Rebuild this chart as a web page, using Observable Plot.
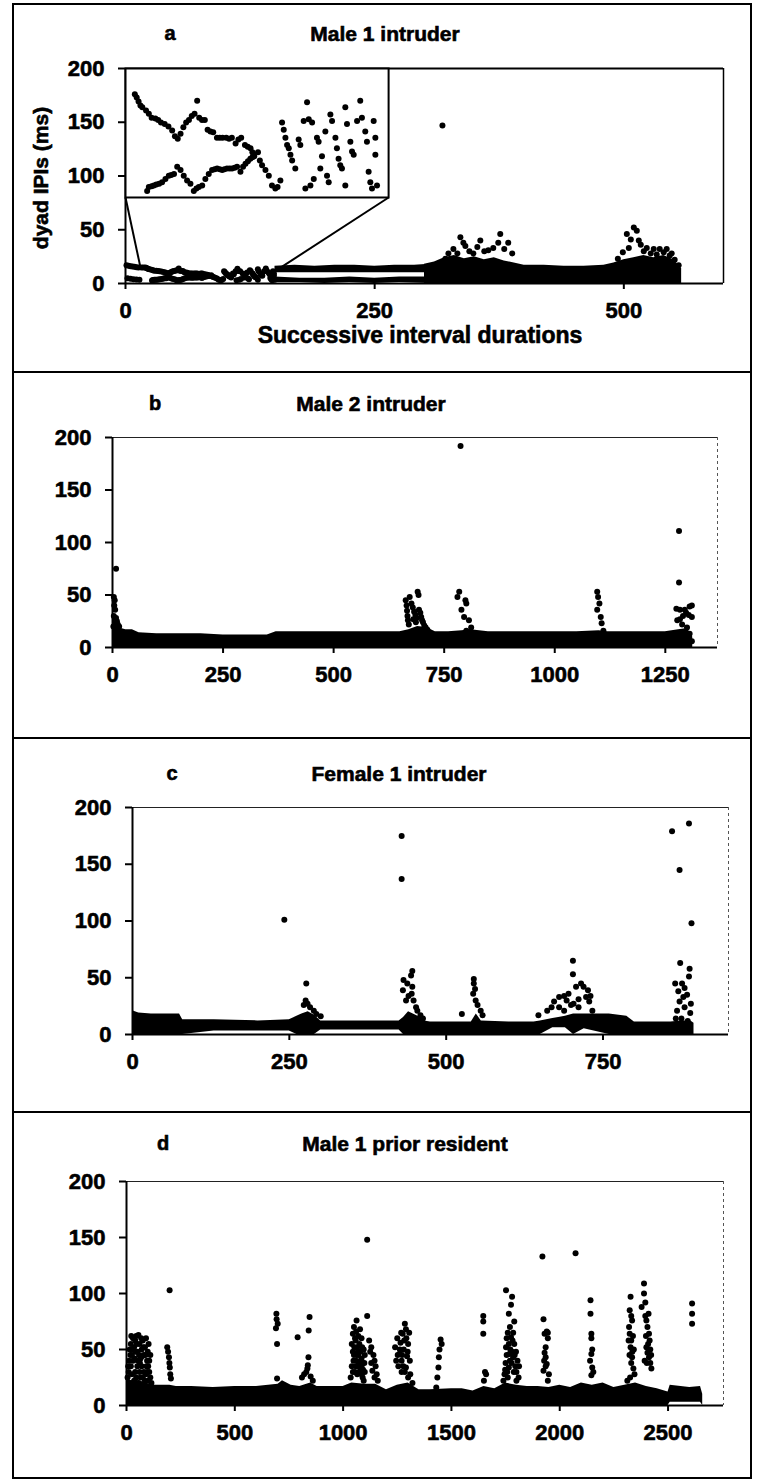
<!DOCTYPE html>
<html><head><meta charset="utf-8">
<script src="https://cdn.jsdelivr.net/npm/d3@7"></script>
<script src="https://cdn.jsdelivr.net/npm/@observablehq/plot@0.6"></script>
<style>
html,body{margin:0;padding:0;background:#fff;}
#page{position:relative;width:760px;height:1481px;overflow:hidden;font-family:"Liberation Sans",Arial,Helvetica,sans-serif;font-weight:bold;color:#000;}
.box{position:absolute;left:12px;width:740px;border:2px solid #000;box-sizing:border-box;pointer-events:none;z-index:5;}
.t{position:absolute;transform:translate(-50%,-50%);white-space:nowrap;font-size:20px;z-index:6;line-height:1;-webkit-text-stroke:0.6px #000;}
#page svg text{stroke:#000;stroke-width:0.6px;}
</style></head><body><div id="page"></div>
<script>
// ---------- shared ----------
const yTicks = [0, 50, 100, 150, 200];

// ---------- panel a : Male 1 intruder ----------
const aTitle = "Male 1 intruder";
const aXTicks = [0, 250, 500];
const aXMax = 600;
// inset (magnified intervals 15..156): [interval, ms]
const aInsetUpper = [[20,14.8],[21,14.4],[22,13.9],[23,13.4],[24,13.2],[26,12.8],[27.5,12.4],[29,11.9],[31,11.8],[32.5,11.6],[34,11.3],[36,11.1],[38,10.8],[40,10.3],[41.5,9.6],[43,9.3],[44.5,9.9],[46,10.7],[47.5,11.3],[49,11.6],[50.5,12.1],[52,12.4],[53.4,14.0],[54.5,11.9],[56,11.6],[57.5,11.6],[59,10.4],[60.5,10.2],[62,10.1],[64,9.4],[65.5,9.4],[67,9.4],[69,9.4],[70.5,9.3],[72,9.4],[74,8.7],[75.5,9.2],[77,9.4],[79,8.5],[80.5,8.3],[82,8.1],[83,7.6],[84,7.1]];
const aInsetLower = [[26.6,2.8],[27.5,3.3],[29,3.4],[30.2,3.5],[31.5,3.6],[33,3.7],[34.6,3.9],[36.4,4.3],[38.2,4.7],[39.5,4.8],[41,4.9],[42.7,5.8],[44.5,5.4],[46.2,4.7],[48,4.1],[49.8,3.7],[51.6,2.8],[53,3.1],[54.3,3.3],[56.1,3.5],[57.8,4.3],[59.6,4.9],[61.4,5.4],[62.8,5.5],[64.1,5.6],[65.5,5.5],[66.8,5.4],[68,5.5],[69.4,5.6],[70.8,5.6],[72.1,5.6],[73.5,5.7],[74.8,5.8],[76.6,5.2],[78,5.8],[79.3,6.2],[80.6,6.5],[81.9,6.8],[83,7.0],[83.7,7.3]];
const aInsetScatter = [[86,7.6],[87,6.6],[88.2,6.0],[90,5.4],[91.8,4.7],[93.5,3.5],[95.3,3.1],[96.5,3.3],[98,4.1],[98.9,11.3],[99.8,10.4],[100.7,9.4],[101.6,8.5],[102.5,8.1],[103.4,7.3],[104.3,6.6],[106,5.6],[107.8,9.2],[108.7,8.5],[110.5,11.5],[111.4,3.1],[112.3,13.8],[113.2,11.7],[114.1,3.5],[115,11.3],[115.9,4.3],[117.6,9.4],[118.5,8.9],[119.4,5.6],[120.3,7.1],[122.1,10.2],[123,4.7],[123.9,3.9],[124.8,12.3],[125.7,11.5],[127.5,9.4],[128.3,8.1],[129.2,6.8],[130.1,6.0],[131,5.6],[132.8,13.2],[132.8,3.5],[133.7,11.1],[135.5,8.9],[136.4,7.7],[137.3,7.3],[139.1,11.5],[140.8,14.0],[141.7,11.9],[143.5,10.2],[144.4,8.9],[145.3,5.2],[146.2,3.9],[147.1,3.1],[148,11.5],[148.9,9.4],[148.9,7.3],[149.8,3.5]];
const aStart = [[1,17],[3,16.5],[5,16],[7,15.8],[9,15.5],[11,15.2],[13,15],[16,14.9],[18,14.8],[2,5],[5,4.5],[8,4],[11,3.8],[14,3.5]];
const aInsetX = [15, 156];
const aInsetY = [2, 18];
const aInsetBox = {x0: 0, x1: 264, y0: 80, y1: 200};
const aInsetLinks = [{x1: 0, y1: 80, x2: 15, y2: 15}, {x1: 264, y1: 80, x2: 156, y2: 15}];
// dense band envelopes: [interval, low ms, high ms]
const aBandUpper = [[150,10,16],[170,10,17],[190,10,16],[210,10,17],[230,10,17],[250,10,16],[270,10,17],[290,10,17],[305,10,18]];
const aBandLower = [[150,1,6],[175,1,5],[200,0,5],[225,1,6],[250,0,5],[275,1,6],[305,0,6]];
const aBandDense = [[300,0,18],[310,0,20],[320,0,24],[330,0,26],[340,0,23],[350,0,25],[360,0,22],[370,0,24],[380,0,21],[390,0,19],[400,0,17],[420,0,17],[440,0,16],[460,0,16],[480,0,17],[490,0,19],[500,0,22],[510,0,24],[520,0,26],[530,0,24],[540,0,26],[550,0,22],[558,0,14]];
const aPoints = [[318,147],[321,23],[324,28],[329,32],[333,28],[336,43],[339,38],[341,35],[345,30],[349,28],[353,34],[356,40],[360,30],[364,31],[369,33],[374,38],[376,46],[380,32],[384,38],[388,28],[494,23],[499,29],[503,46],[505,33],[507,41],[510,52],[513,49],[515,40],[517,36],[520,30],[523,33],[527,28],[530,32],[533,27],[536,32],[540,29],[543,32],[546,26],[548,28],[551,22],[555,17]];

// ---------- panel b : Male 2 intruder ----------
const bTitle = "Male 2 intruder";
const bXTicks = [0, 250, 500, 750, 1000, 1250];
const bXMax = 1368;
const bBand = [[0,0,30],[10,0,22],[20,0,18],[30,0,17],[45,0,17],[60,0,14],[100,0,13],[150,0,13],[200,0,13],[250,0,12],[300,0,12],[350,0,12],[370,0,15],[400,0,15],[450,0,15],[500,0,15],[550,0,15],[600,0,15],[650,0,15],[670,0,17],[690,0,20],[710,0,19],[730,0,15],[760,0,15],[790,0,16],[810,0,17],[830,0,16],[850,0,15],[900,0,15],[950,0,15],[1000,0,15],[1050,0,15],[1100,0,16],[1120,0,15],[1150,0,15],[1200,0,15],[1250,0,15],[1280,0,17],[1300,0,18],[1312,0,10]];
const bPoints = [[2,20],[3,30],[3,48],[4,40],[5,45],[6,36],[8,28],[8,75],[10,25],[12,22],[15,20],[663,45],[665,40],[666,35],[667,30],[668,26],[670,22],[672,48],[676,42],[679,38],[680,27],[682,34],[685,31],[686,24],[688,28],[690,53],[692,50],[693,36],[696,33],[698,29],[700,26],[702,24],[705,21],[708,19],[712,17],[787,192],[780,48],[784,53],[789,36],[795,29],[798,45],[800,42],[800,16],[806,26],[811,19],[1096,53],[1098,48],[1101,42],[1096,36],[1104,29],[1106,23],[1110,16],[1281,111],[1281,62],[1275,37],[1283,36],[1294,36],[1305,39],[1310,40],[1283,27],[1277,26],[1303,31],[1310,29],[1299,19],[1305,13],[1310,6],[1290,30],[1297,33],[1288,22]];

// ---------- panel c : Female 1 intruder ----------
const cTitle = "Female 1 intruder";
const cXTicks = [0, 250, 500, 750];
const cXMax = 950;
const cBand = [[0,0,21],[10,0,19],[30,0,18],[60,0,18],[75,0,18],[80,0,13],[130,3,13],[200,3,12],[250,3,13],[262,0,16],[270,0,18],[280,0,20],[290,0,17],[300,4,12],[350,4,12],[400,4,12],[425,4,12],[432,0,15],[440,0,20],[455,0,16],[465,0,12],[475,0,11],[500,0,11],[540,0,11],[548,0,18],[556,0,12],[600,0,11],[640,0,11],[650,0,12],[670,6,14],[690,6,16],[703,0,18],[720,5,18],[760,0,18],[788,0,16],[800,0,11],[850,0,11],[858,0,11],[875,0,12],[890,0,12],[895,0,10]];
const cPoints = [[242,101],[277,45],[273,26],[276,30],[279,27],[283,24],[289,21],[293,18],[300,16],[429,175],[429,137],[432,48],[446,56],[444,52],[438,45],[446,42],[445,36],[436,30],[448,30],[452,24],[454,21],[459,17],[463,14],[431,39],[440,34],[525,18],[544,49],[544,45],[546,40],[543,36],[547,30],[550,26],[555,21],[558,17],[647,17],[661,21],[668,24],[672,29],[680,33],[688,34],[692,30],[695,36],[702,65],[702,53],[707,42],[715,45],[719,42],[726,39],[723,33],[711,31],[703,27],[711,24],[730,34],[680,24],[688,21],[699,26],[728,29],[733,21],[860,179],[872,145],[887,186],[891,98],[873,63],[865,45],[876,45],[880,41],[887,51],[888,58],[872,29],[868,21],[880,24],[890,27],[889,19],[884,35],[878,33],[870,38],[885,12],[875,14],[866,14]];

// ---------- panel d : Male 1 prior resident ----------
const dTitle = "Male 1 prior resident";
const dXTicks = [0, 500, 1000, 1500, 2000, 2500];
const dXMax = 2756;
const dBand = [[0,0,25],[20,0,22],[60,0,22],[120,0,18],[200,0,18],[230,0,17],[300,0,17],[400,0,16],[500,0,17],[600,0,17],[700,0,19],[720,0,22],[760,0,18],[800,0,17],[850,0,20],[880,0,17],[950,0,17],[1000,0,17],[1040,0,20],[1100,0,19],[1150,0,19],[1200,0,14],[1250,0,18],[1300,0,20],[1350,0,14],[1400,0,14],[1500,0,15],[1550,0,15],[1600,0,13],[1650,0,17],[1700,0,15],[1750,0,20],[1800,0,18],[1850,0,17],[1900,0,17],[1950,0,16],[2000,0,18],[2050,0,16],[2100,0,20],[2150,0,18],[2200,0,20],[2250,0,16],[2300,0,18],[2350,0,20],[2400,0,17],[2450,0,15],[2500,0,12],[2510,3,18],[2600,3,16],[2650,3,17],[2660,0,10]];
const dPoints = [[5,25],[10,30],[12,40],[15,50],[20,55],[25,45],[30,60],[35,52],[40,58],[45,62],[50,48],[55,63],[60,55],[65,42],[70,50],[75,58],[80,45],[85,52],[90,60],[95,40],[100,35],[105,30],[110,25],[20,35],[30,40],[40,30],[50,35],[60,30],[70,35],[80,30],[90,28],[100,22],[115,20],[25,28],[45,25],[65,25],[85,22],
[8,35],[18,45],[28,50],[38,42],[48,55],[58,45],[68,60],[78,52],[88,45],[98,48],[15,20],[35,22],[55,20],[75,25],[95,30],[105,40],[110,45],[102,55],[92,35],[62,38],[42,48],[22,62],[52,40],[72,44],
[199,103],[188,52],[192,48],[196,43],[198,38],[200,34],[202,28],[205,24],
[692,82],[693,77],[690,69],[695,55],[695,24],[698,73],
[790,61],[841,67],[845,79],[840,43],[837,36],[830,30],[820,28],[810,25],[850,26],[860,22],[835,33],
[1062,76],[1050,70],[1045,64],[1040,55],[1055,60],[1065,52],[1070,45],[1050,45],[1060,40],[1075,37],[1080,33],[1085,28],[1090,25],[1095,22],[1040,35],[1045,30],[1035,25],[1070,62],[1075,55],[1080,48],[1085,42],[1090,38],[1100,30],[1055,30],[1065,28],[1060,66],[1078,68],[1085,60],[1095,50],[1100,45],
[1045,48],[1052,52],[1058,58],[1068,48],[1072,38],[1082,40],[1088,52],[1092,32],[1048,40],[1058,35],[1062,45],[1075,30],[1085,35],[1098,38],[1068,35],
[1111,148],[1111,80],
[1120,58],[1130,52],[1140,45],[1145,40],[1150,35],[1135,31],[1145,25],[1155,28],[1125,48],[1160,22],[1130,38],
[1285,73],[1275,64],[1240,52],[1260,46],[1290,34],[1300,25],[1250,60],[1265,56],[1280,50],[1295,44],[1300,55],[1305,65],[1245,40],[1255,35],[1270,40],[1285,30],[1310,28],[1320,20],[1290,68],[1270,30],
[1262,50],[1272,45],[1282,58],[1292,60],[1298,48],[1252,45],[1268,65],[1278,35],[1308,40],
[1450,59],[1445,50],[1442,43],[1440,34],[1435,25],[1430,16],[1455,55],
[1647,80],[1647,75],[1647,64],[1660,28],[1650,22],[1655,30],
[1752,103],[1780,97],[1765,82],[1770,70],[1775,61],[1752,52],[1785,43],[1765,34],[1745,28],[1800,22],[1760,65],[1790,55],[1780,48],[1770,40],[1795,35],[1755,45],[1750,38],[1800,30],[1810,25],[1740,22],[1760,25],[1790,75],[1785,65],[1775,90],
[1755,60],[1765,55],[1772,50],[1782,58],[1792,45],[1805,40],[1748,32],[1758,30],[1768,46],[1778,38],[1788,30],[1798,48],[1812,35],
[1920,133],[1925,77],[1930,64],[1935,52],[1935,43],[1925,31],[1945,22],[1940,66],[1945,60],[1930,47],[1940,37],[1950,28],[1928,40],[1935,35],[1945,65],
[2073,136],
[2142,94],[2142,82],[2146,64],[2146,60],[2146,46],[2150,34],[2146,27],[2140,40],[2150,50],[2155,30],
[2327,97],[2323,85],[2334,76],[2323,64],[2327,52],[2334,43],[2345,28],[2312,22],[2330,80],[2320,70],[2330,58],[2335,48],[2330,38],[2340,33],[2325,25],
[2318,58],[2322,45],[2338,62],[2342,50],
[2389,109],[2389,100],[2378,88],[2400,76],[2412,64],[2400,52],[2412,43],[2423,33],[2395,92],[2405,70],[2415,58],[2405,47],[2418,38],[2395,80],[2410,82],
[2398,62],[2408,55],[2418,50],[2422,45],[2392,40],[2402,38],
[2611,91],[2611,82],[2611,73]];

// ---------- drawing ----------
const page = document.getElementById("page");
const FONT = '"Liberation Sans", Arial, Helvetica, sans-serif';
const tri = a => a.map(([x, lo, hi]) => ({x, lo, hi}));
const pts = a => a.map(([x, y]) => ({x, y}));

function addText(txt, x, y, size, rotate) {
  const d = document.createElement("div");
  d.className = "t";
  d.textContent = txt;
  d.style.left = x + "px";
  d.style.top = y + "px";
  d.style.fontSize = size + "px";
  if (rotate) d.style.transform = "translate(-50%,-50%) rotate(-90deg)";
  page.appendChild(d);
}
function addBox(top, height) {
  const d = document.createElement("div");
  d.className = "box";
  d.style.top = top + "px";
  d.style.height = height + "px";
  page.appendChild(d);
}

function panel(cfg) {
  const {top, bottom, l, r, t, b, xmax, xticks, bands, points, extra = [], solidFrame} = cfg;
  const marks = [];
  if (solidFrame) {
    marks.push(Plot.ruleY([200], {stroke: "#000", strokeWidth: 2}));
    marks.push(Plot.ruleX([xmax], {stroke: "#000", strokeWidth: 1.5}));
  } else {
    marks.push(Plot.ruleY([200], {stroke: "#222", strokeWidth: 1.2}));
    marks.push(Plot.ruleX([xmax], {stroke: "#555", strokeWidth: 1, strokeDasharray: "3,3"}));
  }
  for (const band of bands) marks.push(Plot.areaY(tri(band), {x: "x", y1: "lo", y2: "hi", fill: "#000", curve: "linear"}));
  for (const m of extra) marks.push(m);
  marks.push(Plot.dot(pts(points), {x: "x", y: "y", r: 3, fill: "#000", stroke: "none"}));
  marks.push(Plot.axisY(yTicks, {tickSize: 7, tickPadding: 14, stroke: "#000", strokeWidth: 2, fill: "#000", label: null, tickFormat: d => String(d)}));
  marks.push(Plot.axisX(xticks, {tickSize: 6, tickPadding: 13, stroke: "#000", strokeWidth: 2, fill: "#000", label: null, tickFormat: d => String(d)}));
  marks.push(Plot.ruleX([0], {stroke: "#000", strokeWidth: 2}));
  marks.push(Plot.ruleY([0], {stroke: "#000", strokeWidth: 2}));
  const chart = Plot.plot({
    width: 760, height: bottom - top,
    marginLeft: l, marginRight: 760 - r, marginTop: t - top, marginBottom: bottom - b,
    x: {domain: [0, xmax]}, y: {domain: [0, 200]},
    style: {fontFamily: FONT, fontSize: "22px", fontWeight: "bold", background: "transparent", color: "#000", overflow: "visible"},
    marks
  });
  chart.style.position = "absolute";
  chart.style.left = "0px";
  chart.style.top = top + "px";
  page.appendChild(chart);
  return chart;
}

// panel a
const A = {top: 3, bottom: 372};
const chartA = panel({
  top: A.top, bottom: A.bottom, l: 125, r: 723, t: 68, b: 283,
  xmax: aXMax, xticks: aXTicks, solidFrame: true,
  bands: [aBandUpper, aBandLower, aBandDense],
  points: [...aStart, ...aInsetUpper, ...aInsetLower, ...aInsetScatter, ...aPoints],
  extra: [Plot.link(aInsetLinks, {x1: "x1", y1: "y1", x2: "x2", y2: "y2", stroke: "#000", strokeWidth: 2})]
});
{
  const xs = chartA.scale("x"), ys = chartA.scale("y");
  const left = xs.apply(aInsetBox.x0), right = xs.apply(aInsetBox.x1);
  const topPx = ys.apply(aInsetBox.y1), botPx = ys.apply(aInsetBox.y0);
  const inset = Plot.plot({
    width: right - left, height: botPx - topPx, margin: 0,
    x: {domain: aInsetX, axis: null}, y: {domain: aInsetY, axis: null},
    style: {background: "#fff", overflow: "visible"},
    marks: [
      Plot.dot(pts([...aInsetUpper, ...aInsetLower, ...aInsetScatter]), {x: "x", y: "y", r: 3, fill: "#000", stroke: "none"}),
      Plot.frame({stroke: "#000", strokeWidth: 2})
    ]
  });
  inset.style.position = "absolute";
  inset.style.left = left + "px";
  inset.style.top = (A.top + topPx) + "px";
  inset.style.zIndex = 3;
  page.appendChild(inset);
}
addBox(A.top, A.bottom - A.top + 1);
addText("a", 170, 33, 20);
addText(aTitle, 385, 33, 21);
addText("dyad IPIs (ms)", 40, 178, 21, true);
addText("Successive interval durations", 420, 335, 23);

// panel b
const B = {top: 371, bottom: 738};
panel({top: B.top, bottom: B.bottom, l: 112, r: 717, t: 437, b: 647, xmax: bXMax, xticks: bXTicks, bands: [bBand], points: bPoints});
addBox(B.top, B.bottom - B.top + 1);
addText("b", 155, 403, 20);
addText(bTitle, 371, 403, 21);

// panel c
const C = {top: 737, bottom: 1112};
panel({top: C.top, bottom: C.bottom, l: 132, r: 728, t: 807, b: 1034, xmax: cXMax, xticks: cXTicks, bands: [cBand], points: cPoints});
addBox(C.top, C.bottom - C.top + 1);
addText("c", 172, 773, 20);
addText(cTitle, 399, 773, 21);

// panel d
const D = {top: 1111, bottom: 1478};
panel({top: D.top, bottom: D.bottom, l: 126, r: 723, t: 1181, b: 1405, xmax: dXMax, xticks: dXTicks, bands: [dBand], points: dPoints});
addBox(D.top, D.bottom - D.top + 1);
addText("d", 163, 1143, 20);
addText(dTitle, 405, 1143, 21);
</script></body></html>
